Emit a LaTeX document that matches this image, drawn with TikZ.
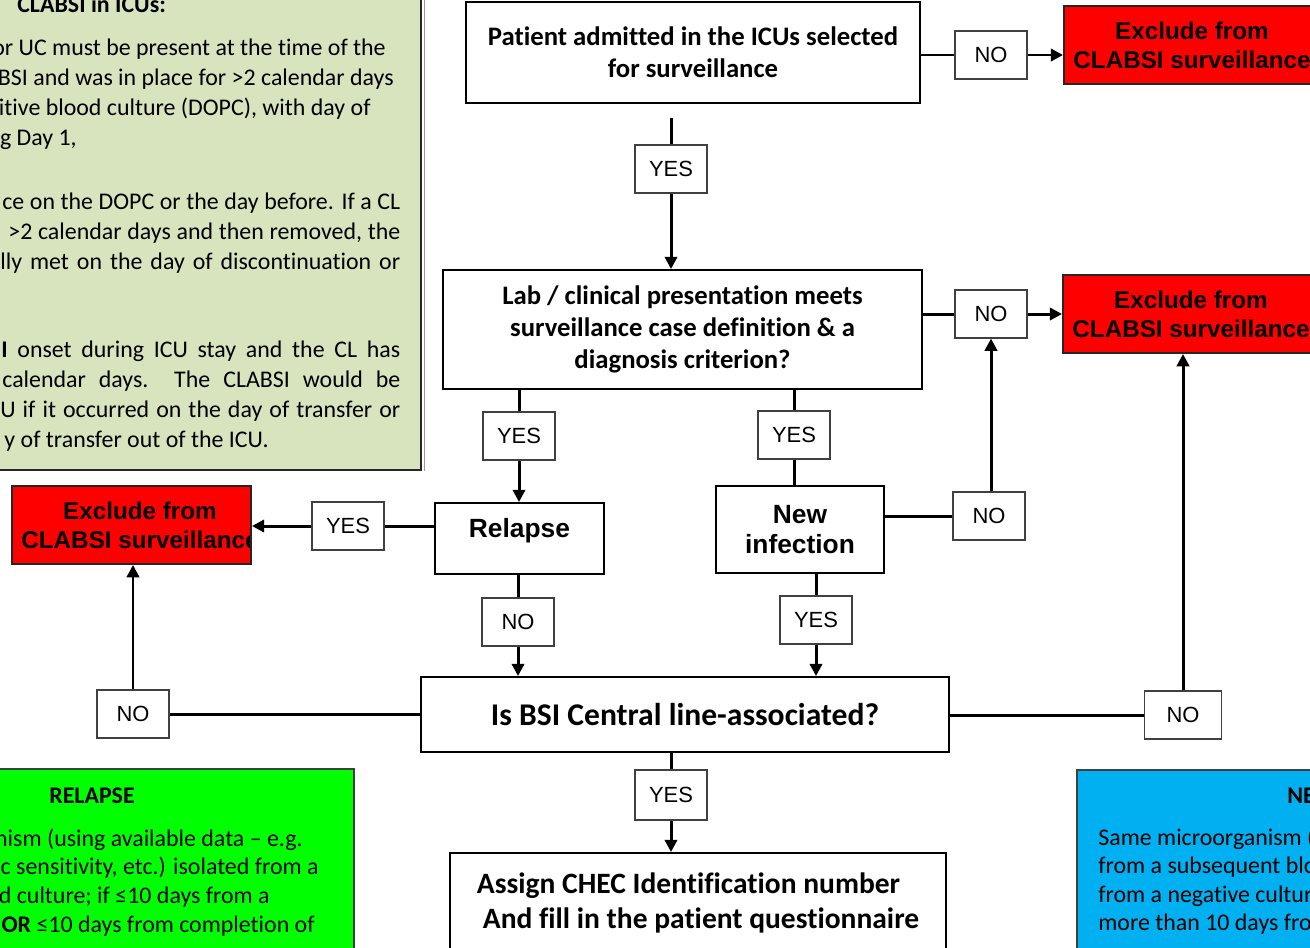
\documentclass[tikz,border=0pt]{standalone}
\usepackage{fontspec}
\setmainfont[Ligatures=NoCommon]{Carlito}
\newfontfamily\arialfont{Liberation Sans}
\usepackage{xcolor}
\definecolor{critGreen}{HTML}{D7E4BD}
\definecolor{relapseGreen}{HTML}{00FF00}
\definecolor{newinfBlue}{HTML}{00B0F0}
\definecolor{excludeRed}{HTML}{FF0000}
\usepackage{tikz}
\usetikzlibrary{arrows.meta, positioning, calc}

\begin{document}
\begin{tikzpicture}[x=0.02cm, y=-0.02cm,
  flowbox/.style={draw, line width=1.1pt, fill=white, align=center, inner sep=0pt,
    font=\bfseries\fontsize{15.2}{18}\selectfont},
  decision/.style={flowbox, font=\arialfont\bfseries\fontsize{15}{17}\selectfont},
  answer/.style={draw=black!75, line width=0.6pt, fill=white, inner sep=0pt,
    minimum width=1.44cm, minimum height=0.96cm, font=\arialfont\fontsize{12.5}{14}\selectfont},
  exclude/.style={draw=black!85, line width=1.1pt, fill=excludeRed, minimum height=1.56cm,
    path picture={\node[font=\arialfont\bfseries\fontsize{13.8}{16.4}\selectfont, align=center]
      at ([xshift=2.56cm]path picture bounding box.west) {Exclude from\\CLABSI surveillance};}},
  infobox/.style={draw=black!85, line width=1.1pt},
  note/.style={inner sep=0pt, font=\fontsize{13.6}{17}\selectfont},
  line/.style={line width=1.7pt},
  arrow/.style={line, -{Triangle[length=7pt, width=7pt]}}
]
  \useasboundingbox (0,0) rectangle (1310,947);
  \clip (0,0) rectangle (1310,947);

  % definition boxes
  \node[infobox, fill=critGreen, minimum width=8.82cm, minimum height=9.8cm] (critbox) at (200.5,225) {};
  \draw[black!40, line width=0.5pt] ([xshift=0.06cm]critbox.north east) -- ([xshift=0.06cm]critbox.south east);
  \node[note, font=\bfseries\fontsize{13.6}{17}\selectfont, anchor=base west] (crittitle) at (17,12) {CLABSI in ICUs:};
  \node[note, anchor=base east] (c1) at (386,55) {or UC must be present at the time of the};
  \node[note, anchor=base east] (c2) at (394,85) {BSI and was in place for >2 calendar days};
  \node[note, anchor=base east] (c3) at (371,115) {itive blood culture (DOPC), with day of};
  \node[note, anchor=base east] (c4) at (77,145) {g Day 1,};
  \node[note, anchor=base west] (c5) at (2,209) {\makebox[7.96cm][s]{ce on the DOPC or the day before. If a CL}};
  \node[note, anchor=base west] (c6) at (8,239) {\makebox[7.84cm][s]{>2 calendar days and then removed, the}};
  \node[note, anchor=base west] (c7) at (0,269) {\makebox[8cm][s]{lly met on the day of discontinuation or}};
  \node[note, anchor=base west] (c8) at (1,357) {\makebox[7.98cm][s]{\textbf{I} onset during ICU stay and the CL has}};
  \node[note, anchor=base west] (c9) at (2,387) {\makebox[7.96cm][s]{calendar days.\ \ The CLABSI would be}};
  \node[note, anchor=base west] (c10) at (0,417) {\makebox[8cm][s]{U if it occurred on the day of transfer or}};
  \node[note, anchor=base east] (c11) at (269,447) {y of transfer out of the ICU.};

  \node[infobox, draw=black!75, fill=relapseGreen, minimum width=7.48cm, minimum height=4.22cm] (relbox) at (167,874.5) {};
  \node[note, font=\bfseries\fontsize{13.6}{17}\selectfont, anchor=base] (reltitle) at (92,803) {RELAPSE};
  \node[note, anchor=base east] (r1) at (303,846) {nism (using available data – e.g.};
  \node[note, anchor=base east] (r2) at (319,874) {c sensitivity, etc.) isolated from a};
  \node[note, anchor=base east] (r3) at (270,903) {d culture; if ≤10 days from a};
  \node[note, anchor=base east] (r4) at (315,932) {\textbf{OR} ≤10 days from completion of};

  \node[infobox, draw=black!75, fill=newinfBlue, minimum width=5.26cm, minimum height=4.2cm] (newbox) at (1208.5,875) {};
  \node[note, font=\bfseries\fontsize{13.6}{17}\selectfont, anchor=base west] (newtitle) at (1287,803) {NE};
  \node[note, anchor=base west] (n1) at (1098,845) {Same microorganism (};
  \node[note, anchor=base west] (n2) at (1098,873) {from a subsequent blo};
  \node[note, anchor=base west] (n3) at (1098,902) {from a negative cultur};
  \node[note, anchor=base west] (n4) at (1098,930) {more than 10 days fro};

  % flow
  \node[flowbox, minimum width=9.08cm, minimum height=2.02cm] (admit) at (693,52.5) {Patient admitted in the ICUs selected\\for surveillance};
  \node[answer] (no1) at (991,55) {NO};
  \node[exclude, minimum width=5.12cm] (excl1) at (1192,45) {};
  \node[answer] (yes1) at (671,169) {YES};
  \node[flowbox, minimum width=9.58cm, minimum height=2.38cm] (lab) at (682.5,329.5) {Lab / clinical presentation meets\\surveillance case definition \& a\\diagnosis criterion?};
  \node[answer] (no2) at (991,314) {NO};
  \node[exclude, minimum width=5.12cm] (excl2) at (1191,314) {};
  \node[answer] (yes2) at (519,436) {YES};
  \node[answer] (yes3) at (794,435) {YES};
  \node[decision, text height=10.7pt, text depth=12pt, minimum width=3.38cm, minimum height=1.42cm] (relapse) at (519.5,538.5) {Relapse};
  \node[decision, minimum width=3.36cm, minimum height=1.74cm, align=center] (newinf) at (800,529.5) {New\\infection};
  \node[answer] (yes4) at (348,526) {YES};
  \node[exclude, minimum width=4.78cm] (excl3) at (131.5,525) {};
  \node[answer] (no3) at (518,622) {NO};
  \node[answer] (yes5) at (816,620) {YES};
  \node[answer] (no4) at (989,516) {NO};
  \node[flowbox, font=\bfseries\fontsize{18}{20}\selectfont, minimum width=10.56cm, minimum height=1.5cm] (bsi) at (685,714.5) {Is BSI Central line-associated?};
  \node[answer] (no5) at (133,714) {NO};
  \node[answer, minimum width=1.54cm] (no6) at (1183,715) {NO};
  \node[answer, minimum height=1cm] (yes6) at (671,795) {YES};
  \node[flowbox, font=\bfseries\fontsize{16.8}{19.8}\selectfont, align=left, minimum width=9.92cm, minimum height=2cm] (assign) at (698,903) {Assign CHEC Identification number\\\hspace{0.2em}And fill in the patient questionnaire};

  \draw[line, shorten <=0.28cm] (admit.south -| yes1) -- (yes1.north);
  \draw[arrow] (yes1.south) -- (lab.north -| yes1);
  \draw[line] (no1.west -| admit.east) -- (no1.west);
  \draw[arrow] (no1.east) -- (no1.east -| excl1.west);
  \draw[line] (no2.west -| lab.east) -- (no2.west);
  \draw[arrow] (no2.east) -- (no2.east -| excl2.west);
  \draw[line] (lab.south -| yes2) -- (yes2.north);
  \draw[arrow] (yes2.south) -- (relapse.north -| yes2);
  \draw[line] (lab.south -| yes3) -- (yes3.north);
  \draw[line] (yes3.south) -- (newinf.north -| yes3);
  \draw[line] (relapse.west |- yes4) -- (yes4.east);
  \draw[arrow] (yes4.west) -- (yes4.west -| excl3.east);
  \draw[line] (relapse.south -| no3) -- (no3.north);
  \draw[arrow] (no3.south) -- (bsi.north -| no3);
  \draw[line] (newinf.south -| yes5) -- (yes5.north);
  \draw[arrow] (yes5.south) -- (bsi.north -| yes5);
  \draw[line] (newinf.east |- no4) -- (no4.west);
  \draw[arrow] (no4.north -| no2) -- (no2.south);
  \draw[line] (no5.east -| bsi.west) -- (no5.east);
  \draw[arrow] (no5.north) -- (excl3.south -| no5);
  \draw[line] (no6.west -| bsi.east) -- (no6.west);
  \draw[arrow] (no6.north) -- (no6.north |- excl2.south);
  \draw[line] (bsi.south -| yes6) -- (yes6.north);
  \draw[arrow] (yes6.south) -- (assign.north -| yes6);
\end{tikzpicture}
\end{document}
